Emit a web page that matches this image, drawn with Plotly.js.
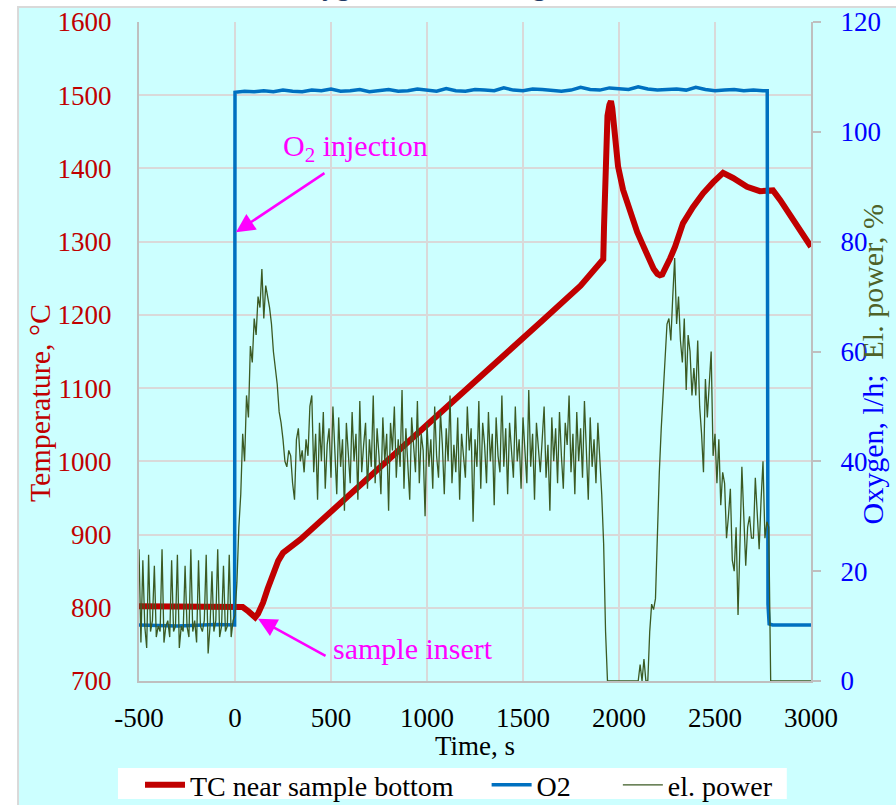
<!DOCTYPE html>
<html>
<head>
<meta charset="utf-8">
<script src="https://cdn.plot.ly/plotly-3.0.1.min.js"></script>
<style>
  html, body { margin: 0; padding: 0; background: #ffffff; }
  #chart { width: 896px; height: 805px; }
</style>
</head>
<body>
<div id="chart"></div>
<script>
// ---------- data ----------
const xTickValues = [-500, 0, 500, 1000, 1500, 2000, 2500, 3000];
const xTickLabels = ['-500', '0', '500', '1000', '1500', '2000', '2500', '3000'];

// TC near sample bottom (°C, left axis)
const tcTime = [-500, -300, -100, 0, 40, 70, 90, 105, 120, 146, 170, 198, 225, 250, 290, 339,
  600, 800, 1000, 1200, 1400, 1600, 1800, 1918, 1922, 1927, 1933, 1940, 1950, 1958, 1965, 1972,
  1980, 1995, 2021, 2045, 2068, 2095, 2120, 2151, 2180, 2200, 2213, 2225, 2240, 2266, 2292,
  2333, 2385, 2438, 2490, 2542, 2594, 2667, 2734, 2775, 2802, 2839, 2906, 2979, 3000];
const tcValue = [802, 802, 802, 802, 801, 795, 789, 787, 792, 807, 826, 848, 864, 875, 883, 893,
  955, 1002, 1050, 1097, 1144, 1192, 1240, 1276, 1320, 1390, 1445, 1472, 1487, 1492, 1482, 1458,
  1432, 1403, 1371, 1350, 1333, 1313, 1298, 1277, 1263, 1256, 1254, 1255, 1262, 1277, 1293,
  1325, 1347, 1366, 1381, 1394, 1387, 1375, 1369, 1370, 1370, 1357, 1330, 1302, 1293];

// O2 flow (l/h, right axis)
const o2Time = [-500, -300, -100, -2, 0, 50, 100, 150, 200, 250, 300, 350, 400, 450, 500, 550,
  600, 650, 700, 750, 800, 850, 900, 950, 1000, 1050, 1100, 1150, 1200, 1250, 1300, 1350, 1400,
  1450, 1500, 1550, 1600, 1650, 1700, 1750, 1800, 1850, 1900, 1950, 2000, 2050, 2100, 2150,
  2200, 2250, 2300, 2350, 2400, 2450, 2500, 2550, 2600, 2650, 2700, 2750, 2772, 2776, 2782,
  2800, 2900, 3000];
const o2Value = [10.2, 10.0, 10.3, 10.2, 107.2, 107.4, 107.3, 107.5, 107.3, 107.6, 107.4, 107.3,
  107.6, 107.5, 107.8, 107.4, 107.5, 107.7, 107.3, 107.5, 107.7, 107.4, 107.5, 107.8, 107.6,
  107.4, 107.9, 107.5, 107.4, 107.7, 107.6, 107.5, 108.0, 107.6, 107.5, 107.8, 107.7, 107.5,
  107.4, 107.6, 108.1, 107.7, 107.6, 108.0, 107.9, 107.7, 108.2, 107.8, 107.6, 107.7, 107.8,
  107.6, 108.1, 107.7, 107.5, 107.6, 107.7, 107.5, 107.6, 107.5, 107.5, 14.0, 10.4, 10.2, 10.2, 10.2];

// electric power (%, right axis), sampled every 10 s from -500 s
const powerStart = -500;
const powerStep = 10;
const powerValue = [
  24, 7, 22, 10, 6, 23, 9, 11, 21, 8,          // -500
  10, 9, 24, 7, 10, 11, 8, 22, 9, 10,          // -400
  23, 6, 10, 9, 21, 10, 8, 24, 9, 11,          // -300
  7, 22, 10, 9, 11, 23, 5, 10, 20, 9,          // -200
  11, 24, 8, 10, 21, 9, 10, 23, 8, 11,         // -100
  12, 18, 28, 34, 45, 40, 52, 48, 61, 58,      // 0
  66, 63, 70, 68, 75, 66, 72, 70, 68, 65,      // 100
  60, 57, 54, 49, 47, 44, 40, 39, 42, 41,      // 200
  36, 33, 44, 46, 40, 42, 38, 44, 41, 50,      // 300
  52, 38, 45, 33, 47, 40, 49, 35, 43, 46,      // 400
  37, 50, 41, 34, 48, 39, 44, 31, 47, 42,      // 500
  36, 49, 40, 45, 33, 51, 38, 43, 47, 35,      // 600
  44, 39, 52, 36, 46, 41, 34, 48, 40, 45,      // 700
  31, 47, 42, 50, 37, 44, 39, 53, 35, 46,      // 800
  40, 33, 48, 43, 38, 51, 36, 45, 42, 30,      // 900
  47, 39, 44, 35, 50, 41, 37, 49, 43, 34,      // 1000
  46, 40, 52, 36, 43, 38, 48, 33, 45, 41,      // 1100
  37, 50, 42, 46, 29, 44, 39, 51, 35, 47,      // 1200
  43, 36, 49, 40, 45, 32, 48, 41, 38, 52,      // 1300
  39, 46, 34, 47, 42, 37, 50, 40, 44, 35,      // 1400
  48, 41, 36, 53, 39, 45, 33, 47, 42, 38,      // 1500
  44, 50, 37, 43, 31, 48, 40, 46, 36, 49,      // 1600
  41, 35, 47, 43, 52, 38, 45, 34, 49, 40,      // 1700
  46, 37, 51, 42, 33, 48, 39, 44, 36, 47,      // 1800
  41, 34, 25, 9, 0, 0, 0, 0, 0, 0,             // 1900
  0, 0, 0, 0, 0, 0, 0, 0, 0, 0,                // 2000
  0, 3, 0, 4, 0, 0, 9, 14, 13, 15,             // 2100
  29, 38, 46, 52, 57, 65, 66, 62, 70, 77,      // 2200
  65, 70, 62, 58, 66, 53, 63, 60, 52, 57,      // 2300
  52, 62, 50, 45, 38, 55, 48, 54, 60, 41,      // 2400
  45, 36, 44, 32, 38, 36, 26, 30, 35, 22,      // 2500
  20, 28, 12, 25, 39, 30, 21, 28, 30, 26,      // 2600
  26, 37, 30, 24, 33, 40, 26, 29, 28, 0,       // 2700
  0, 0, 0, 0, 0, 0, 0, 0, 0, 0,                // 2800
  0, 0, 0, 0, 0, 0, 0, 0, 0, 0,                // 2900
  0                                            // 3000
];
const powerTime = powerValue.map((v, i) => powerStart + i * powerStep);

// ---------- chart ----------
const FONT = 'Liberation Serif, Times New Roman, serif';
const NB = '\u00A0';

const traces = [
  { x: tcTime, y: tcValue, name: 'TC near sample bottom' + NB.repeat(4), type: 'scatter', mode: 'lines',
    line: { color: '#C00000', width: 6 }, yaxis: 'y' },
  { x: o2Time, y: o2Value, name: 'O2' + NB.repeat(6), type: 'scatter', mode: 'lines',
    line: { color: '#0070C0', width: 3.5 }, yaxis: 'y2' },
  { x: powerTime, y: powerValue, name: 'el. power', type: 'scatter', mode: 'lines',
    line: { color: '#3B5A23', width: 1.3 }, yaxis: 'y2' }
];

const layout = {
  width: 896, height: 805,
  margin: { l: 139, r: 85, t: 22, b: 124, autoexpand: false },
  paper_bgcolor: '#ffffff',
  plot_bgcolor: '#ffffff',
  font: { family: FONT, size: 27, color: '#000000' },
  showlegend: true,
  legend: {
    orientation: 'h', x: 0.0015, xanchor: 'left', y: -0.12, yanchor: 'top',
    bgcolor: 'rgba(0,0,0,0)', borderwidth: 0, font: { family: FONT, size: 28, color: '#000000' },
    itemwidth: 40, tracegroupgap: 0
  },
  xaxis: {
    range: [-500, 3000], tickvals: xTickValues, ticktext: xTickLabels,
    showgrid: true, gridcolor: '#D9D9D9', gridwidth: 2,
    zeroline: false, showline: true, linecolor: '#BFBFBF', linewidth: 2, ticks: '',
    tickfont: { family: FONT, size: 27, color: '#000000' }, ticklabelstandoff: 12
  },
  yaxis: {
    range: [700, 1600], dtick: 100, showgrid: true, gridcolor: '#D9D9D9', gridwidth: 2,
    zeroline: false, showline: true, linecolor: '#BFBFBF', linewidth: 2, ticks: '',
    tickfont: { family: FONT, size: 27, color: '#C00000' }, ticklabelstandoff: 20
  },
  yaxis2: {
    range: [0, 120], dtick: 20, overlaying: 'y', side: 'right', showgrid: false, zeroline: false,
    showline: true, linecolor: '#BFBFBF', linewidth: 2, ticks: 'outside', ticklen: 8,
    tickwidth: 2, tickcolor: '#BFBFBF',
    tickfont: { family: FONT, size: 27, color: '#0000FF' }, ticklabelstandoff: 14
  },
  shapes: [
    { type: 'rect', xref: 'paper', yref: 'paper', x0: -0.18, x1: 1.3, y0: -0.3, y1: 1.0228,
      fillcolor: '#CCFFFF', line: { color: '#D9D9D9', width: 2 }, layer: 'below' },
    { type: 'rect', xref: 'paper', yref: 'paper', x0: -0.0313, x1: 0.964, y0: -0.179, y1: -0.132,
      fillcolor: '#FFFFFF', line: { width: 0 }, layer: 'below' }
  ],
  annotations: [
    { xref: 'paper', yref: 'paper', x: 0.219, y: 1.029, xanchor: 'left', yanchor: 'bottom',
      text: 'Oxygen starvation stage', showarrow: false,
      font: { family: FONT, size: 28, color: '#1F3864' } },
    { xref: 'paper', yref: 'paper', x: 0.5, y: -0.098, xanchor: 'center', yanchor: 'middle',
      text: 'Time, s', showarrow: false, font: { family: FONT, size: 27, color: '#000000' } },
    { xref: 'paper', yref: 'paper', x: -0.147, y: 0.422, xanchor: 'center', yanchor: 'middle',
      text: 'Temperature, °C', textangle: -90, showarrow: false,
      font: { family: FONT, size: 30, color: '#C00000' } },
    { xref: 'paper', yref: 'paper', x: 1.092, y: 0.48, xanchor: 'center', yanchor: 'middle',
      text: '<span style="color:#0000FF">Oxygen, l/h;</span>  <span style="color:#4F6228">El. power, %</span>',
      textangle: -90, showarrow: false, font: { family: FONT, size: 30, color: '#0000FF' } },
    { xref: 'x', yref: 'y', x: 625, y: 1428, text: 'O<sub>2</sub> injection', showarrow: false,
      xanchor: 'center', yanchor: 'middle', font: { family: FONT, size: 30, color: '#FF00FF' } },
    { xref: 'x', yref: 'y', x: 5, y: 1313, ax: 90, ay: -60, text: '', showarrow: true,
      arrowhead: 2, arrowsize: 1.5, arrowwidth: 2.5, arrowcolor: '#FF00FF' },
    { xref: 'x', yref: 'y', x: 927, y: 745, text: 'sample insert', showarrow: false,
      xanchor: 'center', yanchor: 'middle', font: { family: FONT, size: 30, color: '#FF00FF' } },
    { xref: 'x', yref: 'y', x: 120, y: 785, ax: 69, ay: 38, text: '', showarrow: true,
      arrowhead: 2, arrowsize: 1.5, arrowwidth: 2.5, arrowcolor: '#FF00FF' }
  ]
};

Plotly.newPlot('chart', traces, layout, { displayModeBar: false, staticPlot: true });
</script>
</body>
</html>
